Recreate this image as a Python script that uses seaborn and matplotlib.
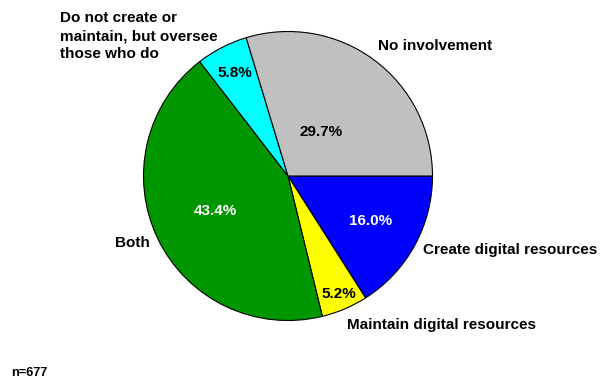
import numpy as np
import matplotlib
matplotlib.use("Agg")
import matplotlib.pyplot as plt
import seaborn as sns

# Survey responses: involvement with digital resources
categories = [
    "Create digital resources",
    "Maintain digital resources",
    "Both",
    "Do not create or\nmaintain, but oversee\nthose who do",
    "No involvement",
]
shares = [16.0, 5.2, 43.4, 5.8, 29.7]
colors = ["#0000FF", "#FFFF00", "#009600", "#00FFFF", "#C0C0C0"]
pct_text_colors = ["white", "black", "white", "black", "black"]
sample_note = "n=677"

sns.set_style("white")
plt.rcParams["font.family"] = ["Liberation Sans", "DejaVu Sans"]
plt.rcParams["font.weight"] = "bold"
plt.rcParams["text.color"] = "black"

W, H = 602, 381
fig = plt.figure(figsize=(W / 100, H / 100), dpi=100)
cx, cy, r = 288, 176, 144.5
ax = fig.add_axes([(cx - r) / W, (H - cy - r) / H, 2 * r / W, 2 * r / H])

wedges, _ = ax.pie(
    shares,
    colors=colors,
    startangle=0,
    counterclock=False,
    wedgeprops=dict(edgecolor="black", linewidth=0.8),
    radius=1.0,
)
ax.set_xlim(-1, 1)
ax.set_ylim(-1, 1)
ax.set_aspect("equal")
ax.axis("off")

FS = 11.0

# percentage labels placed along each wedge's bisector
pct_radius = [0.65, 0.89, 0.56, 0.80, 0.38]
for w, val, col, pr in zip(wedges, shares, pct_text_colors, pct_radius):
    mid = np.deg2rad((w.theta1 + w.theta2) / 2)
    ax.text(pr * np.cos(mid), pr * np.sin(mid), f"{val:.1f}%",
            ha="center", va="center", color=col, fontsize=FS, fontweight="bold")

# category labels around the pie (pixel anchors converted to data units)
def to_data(px, py):
    return (px - cx) / r, (cy - py) / r

label_specs = [
    (423, 250, "left"),
    (347, 325, "left"),
    (150, 243, "right"),
    (60, 36, "left"),
    (378, 46, "left"),
]
for name, (px, py, ha) in zip(categories, label_specs):
    x, y = to_data(px, py)
    ax.text(x, y, name, ha=ha, va="center", fontsize=FS, fontweight="bold",
            color="black", linespacing=1.33, clip_on=False)

fig.text(11 / W, 1 - 373 / H, sample_note, ha="left", va="center",
         fontsize=9.2, fontweight="bold", color="black")

fig.savefig("out.png", dpi=100)
